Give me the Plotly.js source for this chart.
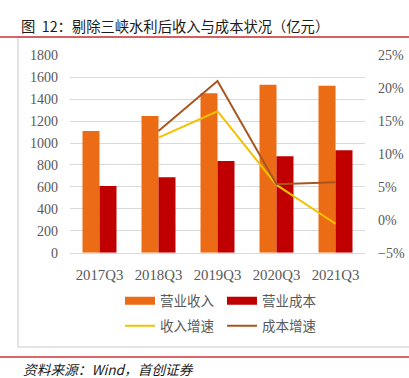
<!DOCTYPE html>
<html>
<head>
<meta charset="utf-8">
<script src="https://cdn.plot.ly/plotly-3.0.1.min.js"></script>
<style>
html,body{margin:0;padding:0;background:#fff;}
#chart{width:409px;height:378px;}
</style>
</head>
<body>
<div id="chart"></div>
<script>
// Data (亿元 / growth rate)
var categories = ['2017Q3', '2018Q3', '2019Q3', '2020Q3', '2021Q3'];
var revenue = [1110, 1247, 1454, 1532, 1523];
var cost = [608, 688, 836, 879, 934];
var revenueGrowth = [null, 0.125, 0.165, 0.053, -0.006];
var costGrowth = [null, 0.135, 0.211, 0.054, 0.057];
var leftTicks = [0, 200, 400, 600, 800, 1000, 1200, 1400, 1600, 1800];
var rightTicks = [-0.05, 0, 0.05, 0.10, 0.15, 0.20, 0.25];

var W = 409, H = 378;
function px(x){ return x / W; }
function py(y){ return 1 - y / H; }

var cOrange = '#EC6C16', cRed = '#C00000', cYellow = '#F2C100', cBrown = '#A8561F';
var tickFont = {family: '"Liberation Serif", "DejaVu Serif", serif', size: 14, color: '#595959'};
var xTickFont = {family: '"Liberation Serif", "DejaVu Serif", serif', size: 14.8, color: '#595959'};
var legFont = {family: '"Noto Sans CJK SC", sans-serif', size: 13.5, color: '#595959'};

var traces = [
  {type: 'bar', name: '营业收入', x: categories, y: revenue, marker: {color: cOrange}, showlegend: false, hoverinfo: 'y'},
  {type: 'bar', name: '营业成本', x: categories, y: cost, marker: {color: cRed}, showlegend: false, hoverinfo: 'y'},
  {type: 'scatter', mode: 'lines', name: '收入增速', x: categories, y: revenueGrowth, yaxis: 'y2', line: {color: cYellow, width: 2}, showlegend: false},
  {type: 'scatter', mode: 'lines', name: '成本增速', x: categories, y: costGrowth, yaxis: 'y2', line: {color: cBrown, width: 2}, showlegend: false},
  // legend entries
  {type: 'scatter', mode: 'lines', name: '营业收入', x: [null], y: [null], line: {color: cOrange, width: 8}, legend: 'legend', hoverinfo: 'skip'},
  {type: 'scatter', mode: 'lines', name: '营业成本', x: [null], y: [null], line: {color: cRed, width: 8}, legend: 'legend', hoverinfo: 'skip'},
  {type: 'scatter', mode: 'lines', name: '收入增速', x: [null], y: [null], line: {color: cYellow, width: 2}, legend: 'legend2', hoverinfo: 'skip'},
  {type: 'scatter', mode: 'lines', name: '成本增速', x: [null], y: [null], line: {color: cBrown, width: 2}, legend: 'legend2', hoverinfo: 'skip'}
];

var layout = {
  width: W, height: H,
  margin: {l: 0, r: 0, t: 0, b: 0, pad: 0},
  paper_bgcolor: '#fff', plot_bgcolor: 'rgba(0,0,0,0)',
  barmode: 'group', bargap: 0.424, bargroupgap: 0,
  xaxis: {
    domain: [px(70), px(365)],
    type: 'category',
    tickfont: xTickFont,
    showgrid: false, zeroline: false,
    showline: true, linecolor: '#D9D9D9', linewidth: 1.5,
    ticks: '', ticklabelstandoff: 8,
    fixedrange: true
  },
  yaxis: {
    domain: [py(252.7), py(55.3)],
    range: [0, 1800],
    tickvals: leftTicks,
    tickfont: tickFont,
    showgrid: true, gridcolor: '#D9D9D9', gridwidth: 1,
    zeroline: false, showline: false,
    ticks: '', ticklabelstandoff: 11,
    fixedrange: true
  },
  yaxis2: {
    overlaying: 'y', side: 'right',
    range: [-0.05, 0.25],
    tickvals: rightTicks,
    tickformat: '.0%',
    tickfont: tickFont,
    showgrid: false, zeroline: false, showline: false,
    ticks: '', ticklabelstandoff: 12,
    fixedrange: true
  },
  legend: {
    orientation: 'h', x: px(120), y: py(301), xanchor: 'left', yanchor: 'middle',
    font: legFont, entrywidth: 57, itemwidth: 30, bgcolor: 'rgba(0,0,0,0)', borderwidth: 0
  },
  legend2: {
    orientation: 'h', x: px(120), y: py(326), xanchor: 'left', yanchor: 'middle',
    font: legFont, entrywidth: 57, itemwidth: 30, bgcolor: 'rgba(0,0,0,0)', borderwidth: 0
  },
  shapes: [
    // gray frame
    {type: 'rect', xref: 'paper', yref: 'paper', x0: px(18), x1: px(412), y0: py(347), y1: py(37), line: {color: '#DCDCDC', width: 1.5}, fillcolor: 'rgba(0,0,0,0)', layer: 'below'},
    // red rules
    {type: 'line', xref: 'paper', yref: 'paper', x0: 0, x1: 1, y0: py(37), y1: py(37), line: {color: '#D0343A', width: 1.5}},
    {type: 'line', xref: 'paper', yref: 'paper', x0: 0, x1: 1, y0: py(357), y1: py(357), line: {color: '#D0343A', width: 1.5}}
  ],
  annotations: [
    {xref: 'paper', yref: 'paper', x: px(19), y: py(25), xanchor: 'left', yanchor: 'middle', showarrow: false,
     text: '图  12：剔除三峡水利后收入与成本状况（亿元）',
     font: {family: '"Noto Sans CJK SC", sans-serif', size: 14.3, color: '#1a1a1a'}},
    {xref: 'paper', yref: 'paper', x: px(21), y: py(369), xanchor: 'left', yanchor: 'middle', showarrow: false,
     text: '资料来源：Wind，首创证券',
     font: {family: '"Noto Sans CJK SC", "Liberation Serif", serif', size: 13.7, color: '#1a1a1a', style: 'italic'}}
  ]
};

Plotly.newPlot('chart', traces, layout, {displayModeBar: false, staticPlot: true});
</script>
</body>
</html>
